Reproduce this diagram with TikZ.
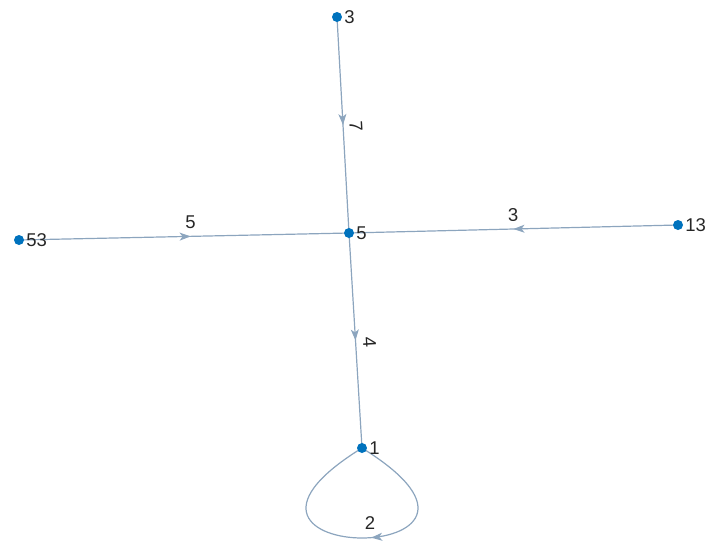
\documentclass[tikz,border=0pt]{standalone}
\usepackage{fontspec}
\setmainfont{Liberation Sans}
\usetikzlibrary{decorations.markings,arrows.meta,backgrounds}
\definecolor{nodeblue}{RGB}{0,114,189}
\definecolor{edgecol}{RGB}{140,165,190}
\definecolor{txt}{RGB}{38,38,38}
\tikzset{
  gnode/.style={circle,fill=nodeblue,inner sep=0pt,minimum size=10pt},
  nlab/.style={text=txt,font=\fontsize{18.5}{18.5}\selectfont,inner sep=0pt,anchor=west,xshift=2pt},
  elab/.style={text=txt,font=\fontsize{18.5}{18.5}\selectfont,inner sep=1pt},
  gedge/.style={draw=edgecol,line width=1.2pt},
  midarrow/.style={postaction={decorate},decoration={markings,
    mark=at position #1 with {\arrow[edgecol]{Stealth[length=11pt,width=8pt,inset=3pt]}}}}
}
\begin{document}
\begin{tikzpicture}[x=1pt,y=-1pt]
\useasboundingbox (0,0) rectangle (716,542);
\node[gnode,label={[nlab]right:3}] (n3) at (337,17) {};
\node[gnode,label={[nlab]right:5}] (n5) at (349,233) {};
\node[gnode,label={[nlab]right:53}] (n53) at (19,240) {};
\node[gnode,label={[nlab]right:13}] (n13) at (678,225) {};
\node[gnode,label={[nlab]right:1}] (n1) at (362,448) {};
\begin{scope}[on background layer]
\draw[gedge,midarrow=0.5] (n3.center) -- node[elab,sloped,above=5pt,pos=0.51] {7} (n5.center);
\draw[gedge,midarrow=0.52] (n53.center) -- node[elab,above=6pt,pos=0.52] {5} (n5.center);
\draw[gedge,midarrow=0.5] (n13.center) -- node[elab,sloped,above=6pt,pos=0.5] {3} (n5.center);
\draw[gedge,midarrow=0.5] (n5.center) -- node[elab,sloped,above=6pt,pos=0.51] {4} (n1.center);
\draw[gedge,midarrow=0.47] (n1.center) .. controls (556,568) and (168,568) .. (n1.center);
\end{scope}
\node[elab] (l2) at (370,523) {2};
\end{tikzpicture}
\end{document}
